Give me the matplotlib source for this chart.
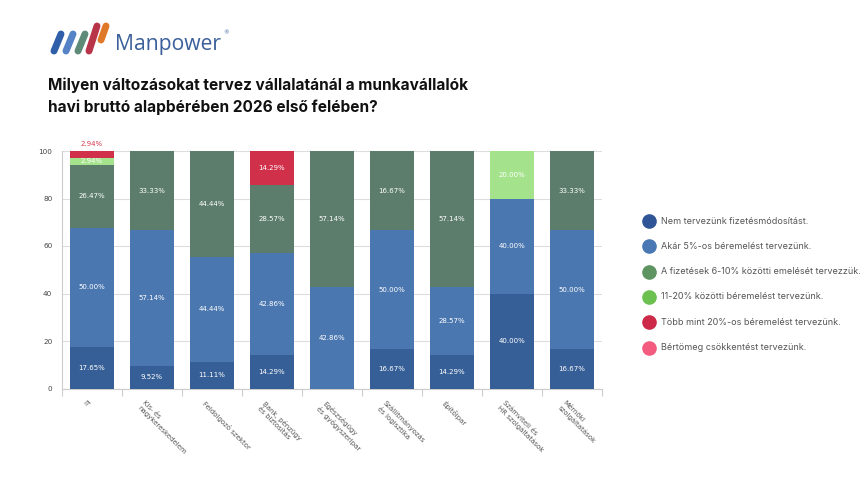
import matplotlib
matplotlib.use("Agg")
import matplotlib.pyplot as plt
from matplotlib.lines import Line2D
import numpy as np

categories = [
    "IT",
    "Kis- és\nnagykereskedelem",
    "Feldolgozó szektor",
    "Bank, pénzügy\nés biztosítás",
    "Egészségügy\nés gyógyszeripar",
    "Szállítmányozás\nés logisztika",
    "Építőipar",
    "Számviteli és\nHR szolgáltatások",
    "Mérnöki\nszolgáltatások",
]

series_names = [
    "Nem tervezünk fizetésmódosítást.",
    "Akár 5%-os béremelést tervezünk.",
    "A fizetések 6-10% közötti emelését tervezzük.",
    "11-20% közötti béremelést tervezünk.",
    "Több mint 20%-os béremelést tervezünk.",
    "Bértömeg csökkentést tervezünk.",
]

nem = [17.65, 9.52, 11.11, 14.29, 0, 16.67, 14.29, 40.00, 16.67]
akar5 = [50.00, 57.14, 44.44, 42.86, 42.86, 50.00, 28.57, 40.00, 50.00]
f6_10 = [26.47, 33.33, 44.44, 28.57, 57.14, 33.33, 57.14, 0, 33.33]
f11_20 = [2.94, 0, 0, 0, 0, 0, 0, 20.00, 0]
tobb20 = [2.94, 0, 0, 14.29, 0, 0, 0, 0, 0]
csokk = [0, 0, 0, 0, 0, 0, 0, 0, 0]

# label text as shown in the original chart (one label differs from its segment)
label_override = {(2, 5): "16.67%"}

yticks = [0, 20, 40, 60, 80, 100]

bar_colors = ["#375f97", "#4b77b0", "#5c7d6b", "#a4e38b", "#d1304b", "#f05a7c"]
legend_colors = ["#2f5597", "#4a78b4", "#5e9461", "#6cc04f", "#cc2a48", "#f35c7f"]

data = [nem, akar5, f6_10, f11_20, tobb20, csokk]

fig = plt.figure(figsize=(8.66, 4.87), dpi=100)
fig.patch.set_facecolor("white")
W, H = 866, 487

def fx(px):
    return px / W

def fy(py):
    return 1 - py / H

ax = fig.add_axes([fx(62), fy(388.5), fx(602) - fx(62), fy(151) - fy(388.5)])
x = np.arange(len(categories))
bw = 0.73
bottom = np.zeros(len(categories))
for si, vals in enumerate(data):
    vals = np.array(vals, dtype=float)
    ax.bar(x, vals, bw, bottom=bottom, color=bar_colors[si], zorder=3, linewidth=0)
    for ci, v in enumerate(vals):
        if v <= 0:
            continue
        txt = label_override.get((si, ci), f"{v:.2f}%")
        if si == 4 and v < 5:
            ax.text(x[ci], 101.5, txt, ha="center", va="bottom", fontsize=5,
                    color="#d6394f", zorder=5)
        else:
            ax.text(x[ci], bottom[ci] + v / 2, txt, ha="center", va="center",
                    fontsize=5, color="white", zorder=5)
    bottom += vals

ax.set_xlim(-0.5, len(categories) - 0.5)
ax.set_ylim(0, 100)
ax.set_yticks(yticks)
ax.set_yticklabels([str(t) for t in yticks], fontsize=5.2, color="#444444")
ax.tick_params(axis="y", length=0, pad=7)
ax.grid(axis="y", color="#dddddd", linewidth=0.8, zorder=0)
for s in ["top", "right"]:
    ax.spines[s].set_visible(False)
for s in ["left", "bottom"]:
    ax.spines[s].set_color("#cccccc")
    ax.spines[s].set_linewidth(0.8)

ax.set_xticks(x - 0.1)
ax.set_xticklabels(categories, rotation=-45, ha="left", va="top",
                   rotation_mode="anchor", fontsize=5, color="#555555")
ax.tick_params(axis="x", length=0, pad=8)
ax.set_xticks(np.arange(-0.5, len(categories), 1.0), minor=True)
ax.tick_params(axis="x", which="minor", length=5, color="#cccccc", width=0.8)

# legend
ly0 = 221
lsp = 25.3
for i, name in enumerate(series_names):
    yy = fy(ly0 + i * lsp)
    fig.add_artist(Line2D([fx(649)], [yy], marker="o", markersize=9.5,
                          color=legend_colors[i], linestyle="none",
                          transform=fig.transFigure))
    fig.text(fx(661), yy, name, fontsize=6.5, color="#555555", va="center",
             ha="left", family="Inter")

# title
fig.text(fx(48), fy(85), "Milyen változásokat tervez vállalatánál a munkavállalók",
         fontsize=11.1, fontweight="bold", family="Inter", color="#111111",
         va="center", ha="left")
fig.text(fx(48), fy(107), "havi bruttó alapbérében 2026 első felében?",
         fontsize=11.1, fontweight="bold", family="Inter", color="#111111",
         va="center", ha="left")

# logo
stripes = [
    ((54, 51), (61, 34), "#2f5fa8"),
    ((66, 51), (73, 34), "#5583c6"),
    ((78, 51), (85, 34), "#5e8b78"),
    ((89, 51), (97, 26), "#b83448"),
    ((101, 40), (106, 26), "#e0782a"),
]
for (x0, y0), (x1, y1), c in stripes:
    fig.add_artist(Line2D([fx(x0), fx(x1)], [fy(y0), fy(y1)], color=c,
                          linewidth=5.0, solid_capstyle="round",
                          transform=fig.transFigure))
fig.text(fx(115), fy(50), "Manpower", fontsize=15.2, color="#3a5f9a",
         family="Open Sans", va="baseline", ha="left")
fig.text(fx(223), fy(33), "®", fontsize=4, color="#3a5f9a", va="center", ha="left")

fig.savefig("out.png", dpi=100, facecolor="white")
